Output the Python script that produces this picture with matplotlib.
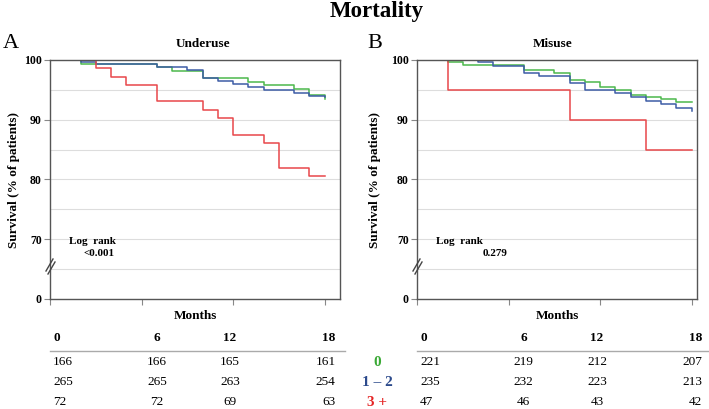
import matplotlib
matplotlib.use("Agg")
import matplotlib.pyplot as plt
from matplotlib.transforms import blended_transform_factory

plt.rcParams['font.family'] = ['Liberation Serif', 'DejaVu Serif']

# survival steps, panel A (underuse)
a_green_t = [0, 2, 7, 8, 10, 13, 14, 16, 17, 18]
a_green_s = [100, 99.4, 98.9, 98.2, 97.0, 96.4, 95.8, 95.2, 94.2, 93.5]
a_blue_t = [0, 2, 3, 7, 9, 10, 11, 12, 13, 14, 16, 17, 18]
a_blue_s = [100, 99.6, 99.3, 98.9, 98.3, 97.0, 96.5, 95.9, 95.5, 94.9, 94.5, 94.0, 93.8]
a_red_t = [0, 3, 4, 5, 7, 10, 11, 12, 14, 15, 17, 18]
a_red_s = [100, 98.6, 97.2, 95.8, 93.1, 91.7, 90.3, 87.5, 86.1, 81.9, 80.6, 80.6]

# survival steps, panel B (misuse)
b_green_t = [0, 2, 3, 7, 9, 10, 11, 12, 13, 14, 15, 16, 17, 18]
b_green_s = [100, 99.6, 99.1, 98.4, 97.8, 96.7, 96.4, 95.4, 95.0, 94.2, 93.8, 93.5, 92.9, 92.9]
b_blue_t = [0, 4, 5, 7, 8, 10, 11, 13, 14, 15, 16, 17, 18]
b_blue_s = [100, 99.6, 99.0, 97.9, 97.3, 96.1, 94.9, 94.5, 93.8, 93.2, 92.6, 92.0, 91.5]
b_red_t = [0, 2, 10, 15, 18]
b_red_s = [100, 95.0, 90.0, 85.0, 85.0]

# numbers at risk
months = [0, 6, 12, 18]
a_risk = [[166, 166, 165, 161], [265, 265, 263, 254], [72, 72, 69, 63]]
b_risk = [[221, 219, 212, 207], [235, 232, 223, 213], [47, 46, 43, 42]]
group_labels = ['0', '1 \u2013 2', '3 +']

y_ticks = [60, 70, 80, 90, 100]
y_ticklabels = ['0', '70', '80', '90', '100']

c_green = '#4cb84c'
c_blue = '#3d5ca6'
c_red = '#e8474a'
t_green = '#3aa935'
t_blue = '#2c4a8c'
t_red = '#e52525'

W, H = 709, 409
fig = plt.figure(figsize=(W / 100, H / 100), dpi=100)


def fx(px):
    return px / W


def fy(py):
    return 1 - py / H


def panel(left_px, right_px, xmax, curves, subtitle, letter, letter_x, sub_x, ylab_x, p_text, risk):
    ax = fig.add_axes([fx(left_px), fy(299), fx(right_px - left_px), (299 - 60) / H])
    for t, s, c in curves:
        ax.step(t, s, where='post', color=c, lw=1.1)
    ax.set_xlim(0, xmax)
    ax.set_ylim(60, 100)
    ax.set_yticks(y_ticks)
    ax.set_yticklabels(y_ticklabels, fontweight='bold', fontsize=8.5)
    ax.set_yticks([65, 75, 85, 95], minor=True)
    ax.set_xticks(months)
    ax.set_xticklabels([])
    ax.tick_params(axis='both', which='major', length=4, width=0.8, color='#888888', pad=2)
    ax.tick_params(axis='y', which='minor', length=0)
    ax.grid(axis='y', which='both', color='#dddddd', lw=0.8)
    ax.set_axisbelow(True)
    for sp in ax.spines.values():
        sp.set_color('#555555')
        sp.set_linewidth(1.0)

    # axis break marks
    for dx, dy in [(0, 0), (2, 3)]:
        fig.add_artist(plt.Line2D([fx(left_px - 4 + dx), fx(left_px + 3 + dx)],
                                  [fy(271 + dy), fy(259 + dy)], color='#444444', lw=1.0))

    fig.text(fx(letter_x), fy(43), letter, fontsize=16, ha='left', va='center')
    fig.text(fx(sub_x), fy(44), subtitle, fontsize=9.5, fontweight='bold', ha='center', va='center')
    fig.text(fx(ylab_x), fy(180), 'Survival (% of patients)', fontsize=9.5, fontweight='bold',
             rotation=90, ha='center', va='center')
    fig.text(fx(left_px + 19), fy(241), 'Log  rank', fontsize=8, fontweight='bold', ha='left', va='center')
    fig.text(fx(left_px + p_text[1]), fy(254), p_text[0], fontsize=8, fontweight='bold', ha='left', va='center')
    fig.text(fx((left_px + right_px) / 2), fy(316), 'Months', fontsize=9.5, fontweight='bold',
             ha='center', va='center')

    # risk table
    tr = blended_transform_factory(ax.transData, fig.transFigure)
    col_x = [0.2, 7.0, 11.8, 18.7]
    col_ha = ['left', 'center', 'center', 'right']
    for m, x, ha in zip(months, col_x, col_ha):
        ax.text(x, fy(338), str(m), transform=tr, fontsize=9.5, fontweight='bold', ha=ha, va='center')
    ax.plot([0, 19.3], [fy(351), fy(351)], transform=tr, color='#aaaaaa', lw=1.0, clip_on=False)
    for row, py in zip(risk, [362, 382, 402]):
        for v, x, ha in zip(row, col_x, col_ha):
            ax.text(x, fy(py), str(v), transform=tr, fontsize=9.5, ha=ha, va='center')
    return ax


panel(50, 340, 19.0,
      [(a_green_t, a_green_s, c_green), (a_blue_t, a_blue_s, c_blue), (a_red_t, a_red_s, c_red)],
      'Underuse', 'A', 3, 203, 14, ('<0.001', 34), a_risk)
panel(417, 697, 18.36,
      [(b_green_t, b_green_s, c_green), (b_blue_t, b_blue_s, c_blue), (b_red_t, b_red_s, c_red)],
      'Misuse', 'B', 367, 553, 375, ('0.279', 66), b_risk)

for lab, col, py in zip(group_labels, [t_green, t_blue, t_red], [362, 382, 402]):
    fig.text(fx(377), fy(py), lab, color=col, fontsize=11, fontweight='bold', ha='center', va='center')

fig.text(fx(377), fy(12), 'Mortality', fontsize=16.5, fontweight='bold', ha='center', va='center')

fig.savefig('out.png', dpi=100)
